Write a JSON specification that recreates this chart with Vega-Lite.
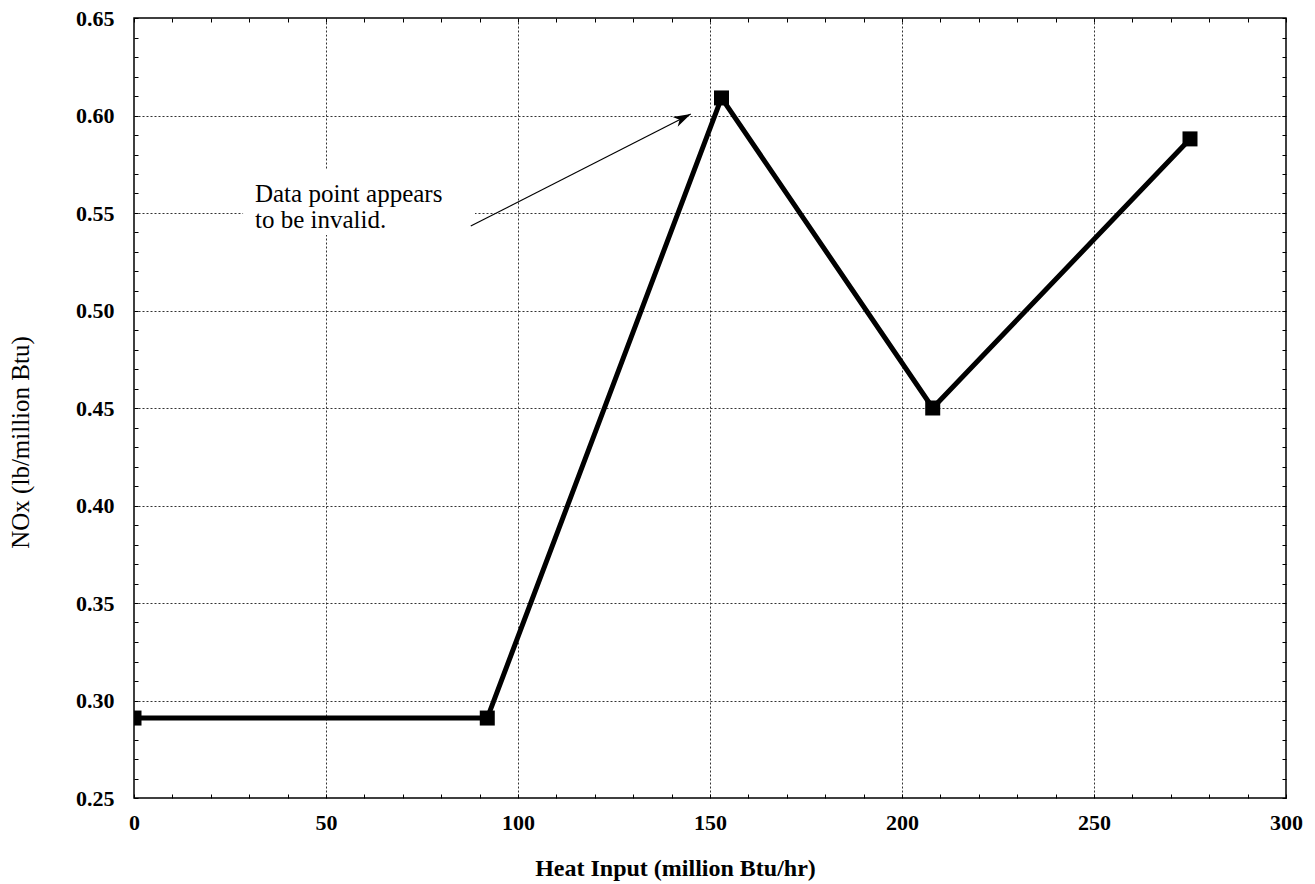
{
  "$schema": "https://vega.github.io/schema/vega-lite/v6.json",
  "width": 1152,
  "height": 780,
  "autosize": {"type": "none"},
  "padding": {"left": 134, "top": 18, "right": 29, "bottom": 86},
  "background": "white",
  "config": {
    "view": {"stroke": "black", "strokeWidth": 1.5},
    "font": "Liberation Serif, Times New Roman, serif"
  },
  "datasets": {
    "series": [
      {"heat": 0, "nox": 0.291},
      {"heat": 92, "nox": 0.291},
      {"heat": 153, "nox": 0.609},
      {"heat": 208, "nox": 0.45},
      {"heat": 275, "nox": 0.588}
    ],
    "box": [{"x0": 28.4, "x1": 88.8, "y0": 0.5387, "y1": 0.572}],
    "note": [
      {"label": "Data point appears", "heat": 31.5, "nox": 0.5556},
      {"label": "to be invalid.", "heat": 31.5, "nox": 0.5423}
    ],
    "arrow": [
      {"heat": 87.7, "nox": 0.5433},
      {"heat": 145, "nox": 0.6008}
    ],
    "tip": [{"heat": 145, "nox": 0.6008}]
  },
  "layer": [
    {
      "data": {"name": "box"},
      "mark": {"type": "rect", "fill": "white"},
      "encoding": {
        "x": {
          "field": "x0", "type": "quantitative",
          "scale": {"domain": [0, 300], "nice": false, "zero": false},
          "axis": {
            "orient": "bottom",
            "title": "Heat Input (million Btu/hr)",
            "values": [0,10,20,30,40,50,60,70,80,90,100,110,120,130,140,150,160,170,180,190,200,210,220,230,240,250,260,270,280,290,300],
            "labelExpr": "datum.value % 50 === 0 ? datum.label : ''",
            "labelFont": "Liberation Serif, Times New Roman, serif", "labelFontWeight": "bold", "labelFontSize": 22, "labelColor": "black",
            "labelPadding": 18, "labelFlush": false, "labelOverlap": false,
            "tickSize": -4, "tickColor": "black", "tickWidth": 1,
            "domain": false,
            "grid": true,
            "gridOpacity": {"condition": {"test": "datum.value % 50 === 0 && datum.value > 0 && datum.value < 300", "value": 1}, "value": 0},
            "gridColor": "#333", "gridDash": [2, 2], "gridWidth": 1,
            "titleFont": "Liberation Serif, Times New Roman, serif", "titleFontWeight": "bold", "titleFontSize": 24, "titleColor": "black",
            "titleX": 541, "titleY": 77, "titleAlign": "center", "titleBaseline": "alphabetic"
          }
        },
        "x2": {"field": "x1"},
        "y": {
          "field": "y0", "type": "quantitative",
          "scale": {"domain": [0.25, 0.65], "nice": false, "zero": false},
          "axis": {
            "orient": "left",
            "title": "NOx (lb/million Btu)",
            "values": [0.25,0.26,0.27,0.28,0.29,0.30,0.31,0.32,0.33,0.34,0.35,0.36,0.37,0.38,0.39,0.40,0.41,0.42,0.43,0.44,0.45,0.46,0.47,0.48,0.49,0.50,0.51,0.52,0.53,0.54,0.55,0.56,0.57,0.58,0.59,0.60,0.61,0.62,0.63,0.64,0.65],
            "format": ".2f",
            "labelExpr": "round(datum.value * 100) % 5 === 0 ? datum.label : ''",
            "labelFont": "Liberation Serif, Times New Roman, serif", "labelFontWeight": "bold", "labelFontSize": 22, "labelColor": "black",
            "labelPadding": 24, "labelFlush": false, "labelOverlap": false,
            "tickSize": -4, "tickColor": "black", "tickWidth": 1,
            "domain": false,
            "grid": true,
            "gridOpacity": {"condition": {"test": "round(datum.value * 100) % 5 === 0 && datum.value > 0.255 && datum.value < 0.645", "value": 1}, "value": 0},
            "gridColor": "#333", "gridDash": [2, 2], "gridWidth": 1,
            "titleFont": "Liberation Serif, Times New Roman, serif", "titleFontWeight": "normal", "titleFontSize": 25, "titleColor": "black",
            "titleX": -106, "titleY": 424, "titleAlign": "center", "titleBaseline": "alphabetic", "titleAngle": -90
          }
        },
        "y2": {"field": "y1"}
      }
    },
    {
      "data": {"name": "series"},
      "mark": {"type": "line", "color": "black", "strokeWidth": 5, "clip": true},
      "encoding": {
        "x": {
          "field": "heat", "type": "quantitative",
          "axis": {
            "orient": "top", "title": null, "labels": false, "grid": false, "domain": false,
            "values": [0,10,20,30,40,50,60,70,80,90,100,110,120,130,140,150,160,170,180,190,200,210,220,230,240,250,260,270,280,290,300],
            "tickSize": -4, "tickColor": "black", "tickWidth": 1
          }
        },
        "y": {
          "field": "nox", "type": "quantitative",
          "axis": {
            "orient": "right", "title": null, "labels": false, "grid": false, "domain": false,
            "values": [0.25,0.26,0.27,0.28,0.29,0.30,0.31,0.32,0.33,0.34,0.35,0.36,0.37,0.38,0.39,0.40,0.41,0.42,0.43,0.44,0.45,0.46,0.47,0.48,0.49,0.50,0.51,0.52,0.53,0.54,0.55,0.56,0.57,0.58,0.59,0.60,0.61,0.62,0.63,0.64,0.65],
            "tickSize": -4, "tickColor": "black", "tickWidth": 1
          }
        }
      }
    },
    {
      "data": {"name": "series"},
      "mark": {"type": "point", "shape": "square", "filled": true, "color": "black", "size": 225, "opacity": 1, "clip": true},
      "encoding": {
        "x": {"field": "heat", "type": "quantitative", "axis": null},
        "y": {"field": "nox", "type": "quantitative", "axis": null}
      }
    },
    {
      "data": {"name": "arrow"},
      "mark": {"type": "line", "color": "black", "strokeWidth": 1.2},
      "encoding": {
        "x": {"field": "heat", "type": "quantitative", "axis": null},
        "y": {"field": "nox", "type": "quantitative", "axis": null}
      }
    },
    {
      "data": {"name": "tip"},
      "mark": {"type": "point", "shape": "M0,0 L0.5,1.6 L0,1.15 L-0.5,1.6 Z", "filled": true, "color": "black", "size": 480, "opacity": 1, "angle": 63},
      "encoding": {
        "x": {"field": "heat", "type": "quantitative", "axis": null},
        "y": {"field": "nox", "type": "quantitative", "axis": null}
      }
    },
    {
      "data": {"name": "note"},
      "mark": {"type": "text", "align": "left", "baseline": "alphabetic", "font": "Liberation Serif, Times New Roman, serif", "fontSize": 25, "color": "black"},
      "encoding": {
        "x": {"field": "heat", "type": "quantitative", "axis": null},
        "y": {"field": "nox", "type": "quantitative", "axis": null},
        "text": {"field": "label"}
      }
    }
  ],
  "resolve": {"axis": {"x": "independent", "y": "independent"}}
}
